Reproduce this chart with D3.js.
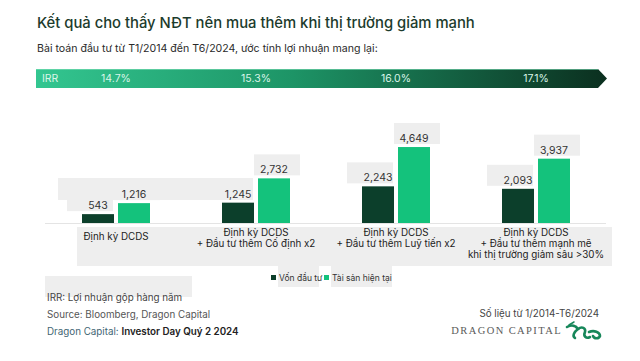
<!DOCTYPE html>
<html>
<head>
<meta charset="utf-8">
<script src="https://cdn.jsdelivr.net/npm/d3@7"></script>
<style>
  body { margin: 0; background: #fff; }
  svg { display: block; font-family: Inter, "Noto Sans", sans-serif; }
</style>
</head>
<body>
<script>
// chart data
var strategies = [
    ["Định kỳ DCDS"],
    ["Định kỳ DCDS", "+ Đầu tư thêm Cố định x2"],
    ["Định kỳ DCDS", "+ Đầu tư thêm Luỹ tiến x2"],
    ["Định kỳ DCDS", "+ Đầu tư thêm mạnh mẽ", "khi thị trường giảm sâu >30%"]
];
var series = ["Vốn đầu tư", "Tài sản hiện tại"];
var invested = [543, 1245, 2243, 2093];
var current = [1216, 2732, 4649, 3937];
var irr = ["14.7%", "15.3%", "16.0%", "17.1%"];

var w = 640, h = 361;
var fmt = d3.format(",");
var colors = ["#0c3f2b", "#14c27c"];

var svg = d3.select("body").append("svg")
    .attr("width", w)
    .attr("height", h);

// title + subtitle
svg.append("text")
    .attr("x", 37).attr("y", 28)
    .attr("font-size", 14.8)
    .attr("font-weight", 500)
    .attr("fill", "#1c3b2c")
    .text("Kết quả cho thấy NĐT nên mua thêm khi thị trường giảm mạnh");
svg.append("text")
    .attr("x", 37).attr("y", 52)
    .attr("font-size", 10.6)
    .attr("fill", "#2a2a2a")
    .text("Bài toán đầu tư từ T1/2014 đến T6/2024, ước tính lợi nhuận mang lại:");

// scales
var x0 = d3.scaleBand()
    .domain(d3.range(strategies.length))
    .range([46, 606]);
var x1 = d3.scaleBand()
    .domain(series)
    .range([x0.bandwidth() / 2 - 34, x0.bandwidth() / 2 + 34])
    .paddingInner(0.111);
var y = d3.scaleLinear()
    .domain([0, 5000])
    .range([223, 141.3]);

// light grey label backdrops (as seen in the source picture)
var back = svg.append("g").attr("fill", "#eeeeee");
back.append("rect").attr("x", 58).attr("y", 178).attr("width", 195).attr("height", 22);
back.append("rect").attr("x", 77).attr("y", 227).attr("width", 535).attr("height", 39);
back.append("rect").attr("x", 45).attr("y", 276).attr("width", 147).attr("height", 21);

// IRR banner
var grad = svg.append("defs").append("linearGradient")
    .attr("id", "irrGrad")
    .attr("x1", "0%").attr("x2", "100%");
grad.append("stop").attr("offset", "0%").attr("stop-color", "#33c690");
grad.append("stop").attr("offset", "45%").attr("stop-color", "#1d9466");
grad.append("stop").attr("offset", "100%").attr("stop-color", "#0b2f1f");

var bx0 = 36, bx1 = 598, by0 = 69, by1 = 88;
svg.append("path")
    .attr("d", "M" + bx0 + "," + by0 + "H" + bx1 + "L" + (bx1 + 9) + "," + ((by0 + by1) / 2) +
        "L" + bx1 + "," + by1 + "H" + bx0 + "Z")
    .attr("fill", "url(#irrGrad)");
svg.append("line")
    .attr("x1", bx0).attr("x2", bx1)
    .attr("y1", by0 + 0.5).attr("y2", by0 + 0.5)
    .attr("stroke", "#7fe0b8").attr("stroke-opacity", 0.6);
svg.append("text")
    .attr("x", 42).attr("y", 82)
    .attr("font-size", 10.5)
    .attr("fill", "#d9f5e8")
    .text("IRR");
svg.selectAll(".irr")
    .data(irr)
    .enter()
    .append("text")
    .attr("class", "irr")
    .attr("x", function(d, i){ return x0(i) + x0.bandwidth() / 2; })
    .attr("y", 82)
    .attr("text-anchor", "middle")
    .attr("font-size", 10.5)
    .attr("fill", "#d9f5e8")
    .text(function(d){ return d; });

// baseline
svg.append("line")
    .attr("x1", 45).attr("x2", 606)
    .attr("y1", y(0) + 0.5).attr("y2", y(0) + 0.5)
    .attr("stroke", "#e4e4e4");

// bars
var rows = strategies.map(function(d, i){
    return { i: i, vals: [invested[i], current[i]] };
});
var groups = svg.selectAll(".grp")
    .data(rows)
    .enter()
    .append("g")
    .attr("class", "grp")
    .attr("transform", function(d){ return "translate(" + x0(d.i) + ",0)"; });

function pairs(d){
    return d.vals.map(function(v, k){ return { v: v, s: series[k], k: k }; });
}

// per-label backdrops
groups.selectAll(".lblBack")
    .data(pairs)
    .enter()
    .append("rect")
    .attr("class", "lblBack")
    .attr("x", function(d){ return x1(d.s) - (d.k ? 4 : 15); })
    .attr("y", function(d){ return y(d.v) - 24; })
    .attr("width", 46)
    .attr("height", 21)
    .attr("fill", "#eeeeee");

groups.selectAll(".bar")
    .data(pairs)
    .enter()
    .append("rect")
    .attr("class", "bar")
    .attr("x", function(d){ return x1(d.s); })
    .attr("y", function(d){ return y(d.v); })
    .attr("width", x1.bandwidth())
    .attr("height", function(d){ return y(0) - y(d.v); })
    .attr("fill", function(d){ return colors[d.k]; });

groups.selectAll(".val")
    .data(pairs)
    .enter()
    .append("text")
    .attr("class", "val")
    .attr("x", function(d){ return x1(d.s) + x1.bandwidth() / 2; })
    .attr("y", function(d){ return y(d.v) - 5; })
    .attr("text-anchor", "middle")
    .attr("font-size", 10.5)
    .attr("fill", "#333")
    .text(function(d){ return fmt(d.v); });

// category labels
groups.append("text")
    .attr("text-anchor", "middle")
    .attr("font-size", 9.8)
    .attr("fill", "#222")
    .selectAll("tspan")
    .data(function(d){ return strategies[d.i]; })
    .enter()
    .append("tspan")
    .attr("x", x0.bandwidth() / 2)
    .attr("y", function(d, j, n){ return (n.length === 1 ? 240 : 236) + j * 11; })
    .text(function(d){ return d; });

// legend
var legend = svg.append("g").attr("transform", "translate(271,275)");
var lx = [0, 53];
legend.selectAll("rect.bk")
    .data(series)
    .enter()
    .append("rect")
    .attr("class", "bk")
    .attr("x", function(d, i){ return lx[i] + 7; })
    .attr("y", -9)
    .attr("width", function(d, i){ return i ? 61 : 41; })
    .attr("height", 21)
    .attr("fill", "#eeeeee");
legend.selectAll("rect.sw")
    .data(series)
    .enter()
    .append("rect")
    .attr("class", "sw")
    .attr("x", function(d, i){ return lx[i]; })
    .attr("y", 0)
    .attr("width", 5).attr("height", 5)
    .attr("fill", function(d, i){ return colors[i]; });
legend.selectAll("text")
    .data(series)
    .enter()
    .append("text")
    .attr("x", function(d, i){ return lx[i] + 8; })
    .attr("y", 5.5)
    .attr("font-size", 8.5)
    .attr("fill", "#333")
    .text(function(d){ return d; });

// footnotes
var foot = svg.append("g").attr("font-size", 9.8);
foot.append("text").attr("x", 47).attr("y", 301).attr("fill", "#444")
    .text("IRR: Lợi nhuận gộp hàng năm");
foot.append("text").attr("x", 47).attr("y", 318).attr("fill", "#555")
    .text("Source: Bloomberg, Dragon Capital");
var dc = foot.append("text").attr("x", 47).attr("y", 335);
dc.append("tspan").attr("fill", "#3f6674").text("Dragon Capital: ");
dc.append("tspan").attr("fill", "#222").attr("font-weight", 600).text("Investor Day Quý 2 2024");
foot.append("text").attr("x", 599).attr("y", 317).attr("text-anchor", "end").attr("fill", "#444")
    .text("Số liệu từ 1/2014-T6/2024");

// logo
svg.append("text")
    .attr("x", 562).attr("y", 334)
    .attr("text-anchor", "end")
    .attr("font-family", "'Liberation Serif', 'DejaVu Serif', serif")
    .attr("font-size", 10.5)
    .attr("letter-spacing", 1.4)
    .attr("fill", "#5a5a5a")
    .text("DRAGON CAPITAL");
var logo = svg.append("g")
    .attr("transform", "translate(566,324)")
    .attr("fill", "none")
    .attr("stroke", "#17875a")
    .attr("stroke-width", 2.6)
    .attr("stroke-linecap", "round");
logo.append("path").attr("d", "M1,3 C6,0 10,2 12,5 C8,8 6,12 9,14");
logo.append("path").attr("d", "M12,5 C16,2 20,4 19,8 C17,12 20,15 24,13");
logo.append("path").attr("d", "M23,8 C28,6 34,8 34,12 C33,15 28,15 27,12");
logo.append("path").attr("d", "M3,1 L8,-2").attr("stroke-width", 1.5);
</script>
</body>
</html>
